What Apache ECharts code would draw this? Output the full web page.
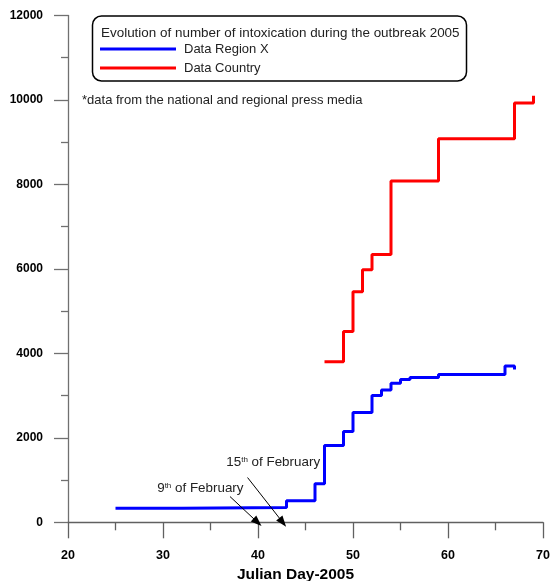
<!DOCTYPE html>
<html>
<head>
<meta charset="utf-8">
<script src="https://cdn.jsdelivr.net/npm/echarts@6/dist/echarts.min.js"></script>
<style>html,body{margin:0;padding:0;background:#fff}#c{width:550px;height:581px}</style>
</head>
<body>
<div id="c"></div>
<script>
var regionDays = [25, 32, 43, 46, 47, 49, 50, 52, 53, 54, 55, 56, 59, 66, 67];
var regionValues = [330, 350, 510, 910, 1820, 2150, 2600, 3000, 3130, 3290, 3380, 3430, 3500, 3700, 3620];
var countryDays = [47, 49, 50, 51, 52, 54, 59, 67, 69];
var countryValues = [3800, 4520, 5460, 5980, 6340, 8080, 9080, 9930, 10100];
var seriesNames = ['Data Region X', 'Data Country'];
var titleText = 'Evolution of number of intoxication during the outbreak 2005';
var noteText = '*data from the national and regional press media';
var xAxisName = 'Julian Day-2005';
var annotations = [
  { text: '15{sup|th} of February', label: [41.6, 1412], from: [38.9, 1060], to: [42.6, 0] },
  { text: '9{sup|th} of February', label: [33.93, 793], from: [37.05, 610], to: [39.95, 0] }
];

function zip(a, b) { return a.map(function (v, i) { return [v, b[i]]; }); }

var FONT = 'Liberation Sans, Arial, sans-serif';
var chart = echarts.init(document.getElementById('c'), null, { renderer: 'canvas' });

var arrowLines = annotations.map(function (a) {
  return [{ coord: a.from }, { coord: a.to }];
});

chart.setOption({
  animation: false,
  grid: { left: 68, right: 7, top: 15.5, bottom: 58.7, outerBoundsMode: 'none', containLabel: false },
  legend: {
    data: seriesNames,
    orient: 'vertical',
    left: 100,
    top: 42.5,
    padding: 0,
    icon: 'rect',
    itemWidth: 76,
    itemHeight: 3,
    itemGap: 6,
    textStyle: { fontFamily: FONT, fontSize: 13, color: '#222', padding: [0, 0, 0, 3] }
  },
  xAxis: {
    type: 'value', min: 20, max: 70, interval: 10,
    name: xAxisName, nameLocation: 'middle', nameGap: 43,
    nameTextStyle: { fontFamily: FONT, fontSize: 15.5, fontWeight: 'bold', color: '#000', padding: [0, 20, 0, 0] },
    axisLine: { onZero: false, lineStyle: { color: '#606060', width: 1.3 } },
    axisTick: { length: 16, lineStyle: { color: '#606060', width: 1.3 } },
    minorTick: { show: true, splitNumber: 2, length: 8, lineStyle: { color: '#606060', width: 1.3 } },
    axisLabel: { margin: 27, fontFamily: FONT, fontSize: 12.5, fontWeight: 'bold', color: '#000' },
    splitLine: { show: false }
  },
  yAxis: {
    type: 'value', min: 0, max: 12000, interval: 2000,
    axisLine: { show: true, lineStyle: { color: '#707070', width: 1.3 } },
    axisTick: { show: true, length: 14, lineStyle: { color: '#707070', width: 1.3 } },
    minorTick: { show: true, splitNumber: 2, length: 7, lineStyle: { color: '#707070', width: 1.3 } },
    axisLabel: {
      margin: 25, fontFamily: FONT, fontSize: 12, fontWeight: 'bold', color: '#000',
      formatter: function (v) { return String(v); }
    },
    splitLine: { show: false }
  },
  series: [
    {
      name: seriesNames[0], type: 'line', step: 'end', symbol: 'none',
      data: zip(regionDays, regionValues),
      lineStyle: { color: '#0000ff', width: 3 },
      itemStyle: { color: '#0000ff' },
      markLine: {
        silent: true, symbol: ['none', 'triangle'], symbolSize: [8, 11],
        label: { show: false },
        lineStyle: { color: '#000', width: 1, type: 'solid' },
        data: arrowLines
      }
    },
    {
      name: seriesNames[1], type: 'line', step: 'end', symbol: 'none',
      data: zip(countryDays, countryValues),
      lineStyle: { color: '#ff0000', width: 3 },
      itemStyle: { color: '#ff0000' }
    }
  ]
});

var graphics = [
  {
    type: 'rect', shape: { x: 92.5, y: 16, width: 374, height: 65, r: 9 },
    style: { fill: 'rgba(0,0,0,0)', stroke: '#000', lineWidth: 1.5 }, z: 10
  },
  {
    type: 'text', x: 101, y: 33, z: 11,
    style: { text: titleText, font: '13.45px ' + FONT, fill: '#222', verticalAlign: 'middle' }
  },
  {
    type: 'text', x: 82, y: 100, z: 11,
    style: { text: noteText, font: '13px ' + FONT, fill: '#222', verticalAlign: 'middle' }
  }
];
annotations.forEach(function (a) {
  var p = chart.convertToPixel({ gridIndex: 0 }, a.label);
  graphics.push({
    type: 'text', x: p[0], y: p[1], z: 11,
    style: {
      text: a.text, align: 'center', verticalAlign: 'middle',
      fontFamily: FONT, fontSize: 13.4, fill: '#222',
      rich: {
        sup: { fontSize: 8, fontFamily: FONT, fill: '#222', padding: [0, 0, 6, 0] }
      }
    }
  });
});
chart.setOption({ graphic: graphics });
</script>
</body>
</html>
